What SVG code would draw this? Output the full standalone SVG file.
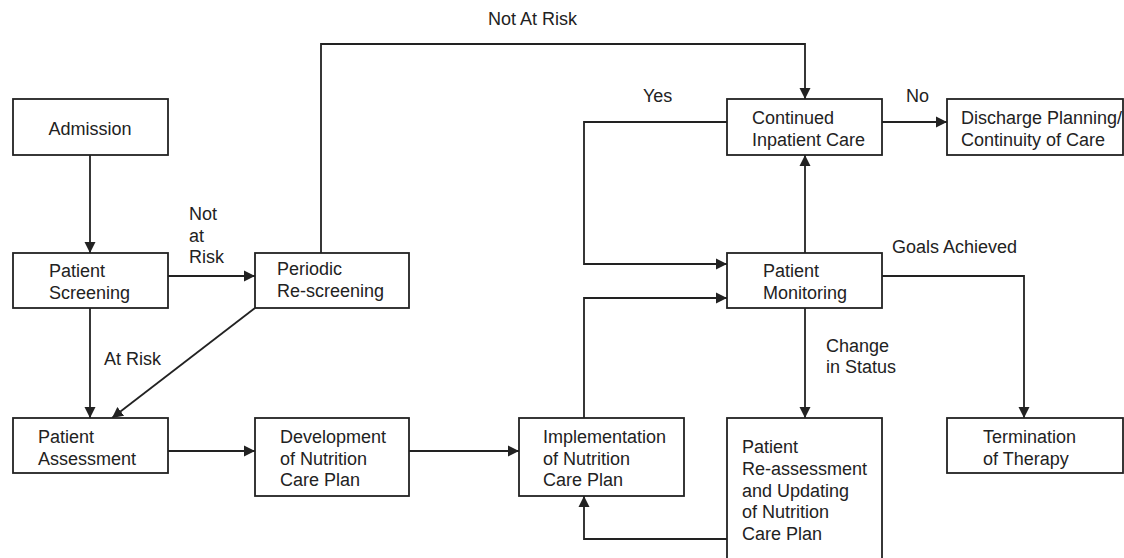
<svg xmlns="http://www.w3.org/2000/svg" width="1124" height="558" viewBox="0 0 1124 558">
<style>
.box{fill:#fff;stroke:#222;stroke-width:1.8}
.t{font-family:"Liberation Sans",Arial,sans-serif;font-size:18px;fill:#222}
.c{fill:none;stroke:#222;stroke-width:1.8}
.a{marker-end:url(#ah)}
</style>
<defs>
<marker id="ah" markerUnits="userSpaceOnUse" markerWidth="13" markerHeight="13" refX="11" refY="6" orient="auto">
<path d="M0,0.5 L11,6 L0,11.5 z" fill="#222"/>
</marker>
</defs>
<rect width="1124" height="558" fill="#fff"/>
<g id="connectors">
<path class="c a" d="M90,155 V253"/>
<path class="c a" d="M168,276 H255"/>
<path class="c a" d="M90,308 V418"/>
<path class="c a" d="M255,308 L112,418"/>
<path class="c a" d="M321,253 V44 H805 V99"/>
<path class="c a" d="M882,122 H947"/>
<path class="c a" d="M727,122 H584 V264 H727"/>
<path class="c a" d="M805,253 V155"/>
<path class="c a" d="M584,418 V298 H727"/>
<path class="c a" d="M882,276 H1024 V418"/>
<path class="c a" d="M805,308 V418"/>
<path class="c a" d="M727,539 H584 V496"/>
<path class="c a" d="M168,451 H255"/>
<path class="c a" d="M409,451 H519"/>
<text class="t" x="488" y="25">Not At Risk</text>
<text class="t" x="643" y="102">Yes</text>
<text class="t" x="906" y="102">No</text>
<text class="t" x="189" y="220">Not</text>
<text class="t" x="189" y="242">at</text>
<text class="t" x="189" y="263">Risk</text>
<text class="t" x="104" y="365">At Risk</text>
<text class="t" x="892" y="253">Goals Achieved</text>
<text class="t" x="826" y="352">Change</text>
<text class="t" x="826" y="373">in Status</text>
</g>
<g id="admission">
<rect class="box" x="13" y="99" width="155" height="56"/>
<text class="t" x="90" y="135" text-anchor="middle">Admission</text>
</g>
<g id="screening">
<rect class="box" x="13" y="253" width="155" height="55"/>
<text class="t" x="49" y="277">Patient</text>
<text class="t" x="49" y="299">Screening</text>
</g>
<g id="rescreening">
<rect class="box" x="255" y="253" width="154" height="55"/>
<text class="t" x="277" y="275">Periodic</text>
<text class="t" x="277" y="297">Re-screening</text>
</g>
<g id="continued">
<rect class="box" x="727" y="99" width="155" height="56"/>
<text class="t" x="752" y="124">Continued</text>
<text class="t" x="752" y="146">Inpatient Care</text>
</g>
<g id="discharge">
<rect class="box" x="947" y="99" width="176" height="56"/>
<text class="t" x="961" y="124">Discharge Planning/</text>
<text class="t" x="961" y="146">Continuity of Care</text>
</g>
<g id="monitoring">
<rect class="box" x="727" y="253" width="155" height="55"/>
<text class="t" x="763" y="277">Patient</text>
<text class="t" x="763" y="299">Monitoring</text>
</g>
<g id="assessment">
<rect class="box" x="13" y="418" width="155" height="55"/>
<text class="t" x="38" y="443">Patient</text>
<text class="t" x="38" y="465">Assessment</text>
</g>
<g id="development">
<rect class="box" x="255" y="418" width="154" height="78"/>
<text class="t" x="280" y="443">Development</text>
<text class="t" x="280" y="465">of Nutrition</text>
<text class="t" x="280" y="486">Care Plan</text>
</g>
<g id="implementation">
<rect class="box" x="519" y="418" width="165" height="78"/>
<text class="t" x="543" y="443">Implementation</text>
<text class="t" x="543" y="465">of Nutrition</text>
<text class="t" x="543" y="486">Care Plan</text>
</g>
<g id="reassessment">
<rect class="box" x="727" y="418" width="155" height="150"/>
<text class="t" x="742" y="453">Patient</text>
<text class="t" x="742" y="475">Re-assessment</text>
<text class="t" x="742" y="497">and Updating</text>
<text class="t" x="742" y="518">of Nutrition</text>
<text class="t" x="742" y="540">Care Plan</text>
</g>
<g id="termination">
<rect class="box" x="947" y="418" width="176" height="55"/>
<text class="t" x="983" y="443">Termination</text>
<text class="t" x="983" y="465">of Therapy</text>
</g>
</svg>
